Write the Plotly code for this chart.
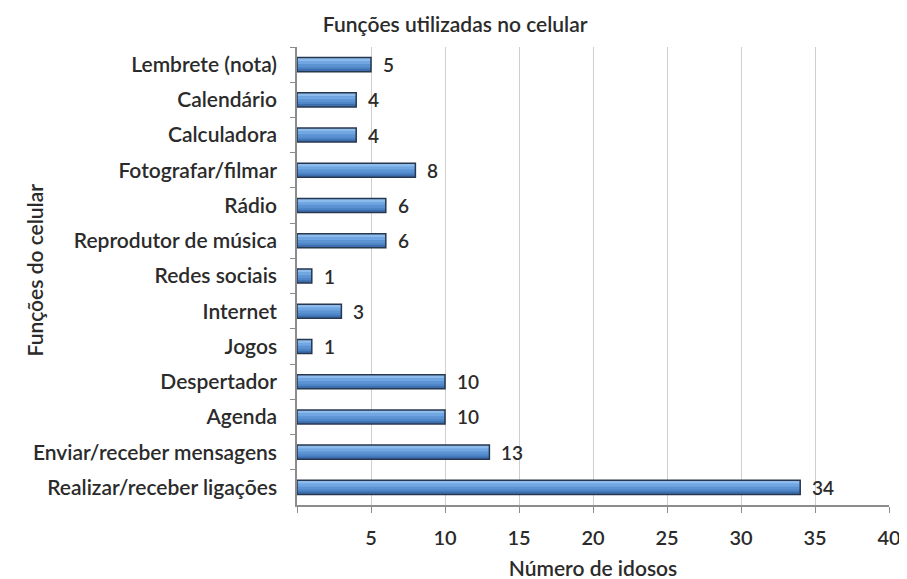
import plotly.graph_objects as go

# Funções do celular (de cima para baixo) e número de idosos
funcoes = [
    "Lembrete (nota)", "Calendário", "Calculadora", "Fotografar/filmar",
    "Rádio", "Reprodutor de música", "Redes sociais", "Internet", "Jogos",
    "Despertador", "Agenda", "Enviar/receber mensagens",
    "Realizar/receber ligações",
]
idosos = [5, 4, 4, 8, 6, 6, 1, 3, 1, 10, 10, 13, 34]
x_ticks = [0, 5, 10, 15, 20, 25, 30, 35, 40]

FONTE = "Lato, 'Open Sans', sans-serif"
TEXTO = "#2b2b2b"
EIXO = "#8c8c8c"
LARG = 0.4  # espessura da barra (em unidades de categoria)

fig = go.Figure()
# preenchimento em faixas para imitar o degradê (claro em cima, escuro embaixo)
faixas = [
    (-LARG / 2, LARG, "#5b93d3"),
    (-LARG / 2, 0.1, "#8dbcec"),
    (-LARG / 2 + 0.1, 0.08, "#70a6e2"),
    (0.06, 0.08, "#4f86c8"),
    (0.12, 0.08, "#3d6fae"),
]
for off, w, cor in faixas:
    fig.add_trace(go.Bar(
        x=idosos, y=funcoes, orientation="h",
        width=w, offset=off,
        marker=dict(color=cor, line=dict(width=0)),
        hoverinfo="skip",
    ))
# contorno
fig.add_trace(go.Bar(
    x=idosos, y=funcoes, orientation="h",
    width=LARG, offset=-LARG / 2,
    marker=dict(color="rgba(0,0,0,0)", line=dict(color="#27374f", width=1.5)),
    hoverinfo="x+y",
))

# rótulos de valor à direita das barras
for f, v in zip(funcoes, idosos):
    fig.add_annotation(x=v, y=f, text=str(v), showarrow=False,
                       xanchor="left", xshift=10,
                       font=dict(size=19, color=TEXTO, family=FONTE, weight=600))

fig.add_annotation(x=-0.468, y=0.513, xref="paper", yref="paper",
                   text="Funções do celular", showarrow=False, textangle=-90,
                   font=dict(size=21, color=TEXTO, family=FONTE, weight=600))

# a página desloca o gráfico 8 px (margem do body); margens já compensadas
fig.update_layout(
    width=907, height=579,
    paper_bgcolor="white", plot_bgcolor="white",
    margin=dict(l=289, r=26, t=39, b=82),
    title=dict(text="Funções utilizadas no celular", x=0.493, xref="container",
               y=0.972, yanchor="middle",
               font=dict(size=21, color=TEXTO, family=FONTE, weight=600)),
    font=dict(family=FONTE, color=TEXTO),
    showlegend=False,
    barmode="overlay",
)
fig.update_xaxes(
    range=[0, 40], tickvals=x_ticks,
    ticktext=["" if t == 0 else str(t) for t in x_ticks],
    showgrid=True, gridcolor="#cfcfcf", gridwidth=1, zeroline=False,
    showline=True, linecolor=EIXO, linewidth=1.5,
    ticks="outside", ticklen=6, tickcolor=EIXO,
    ticklabelstandoff=8, automargin=False,
    tickfont=dict(size=20, color=TEXTO, family=FONTE, weight=600),
    title=dict(text="Número de idosos", standoff=14,
               font=dict(size=21, color=TEXTO, family=FONTE, weight=600)),
)
fig.update_yaxes(
    autorange="reversed", tickson="boundaries",
    showgrid=False, showline=True, linecolor=EIXO, linewidth=1.5,
    ticks="outside", ticklen=5, tickcolor=EIXO,
    ticklabelstandoff=14, automargin=False,
    tickfont=dict(size=21, color=TEXTO, family=FONTE, weight=600),
)

fig.write_html("out.html")
